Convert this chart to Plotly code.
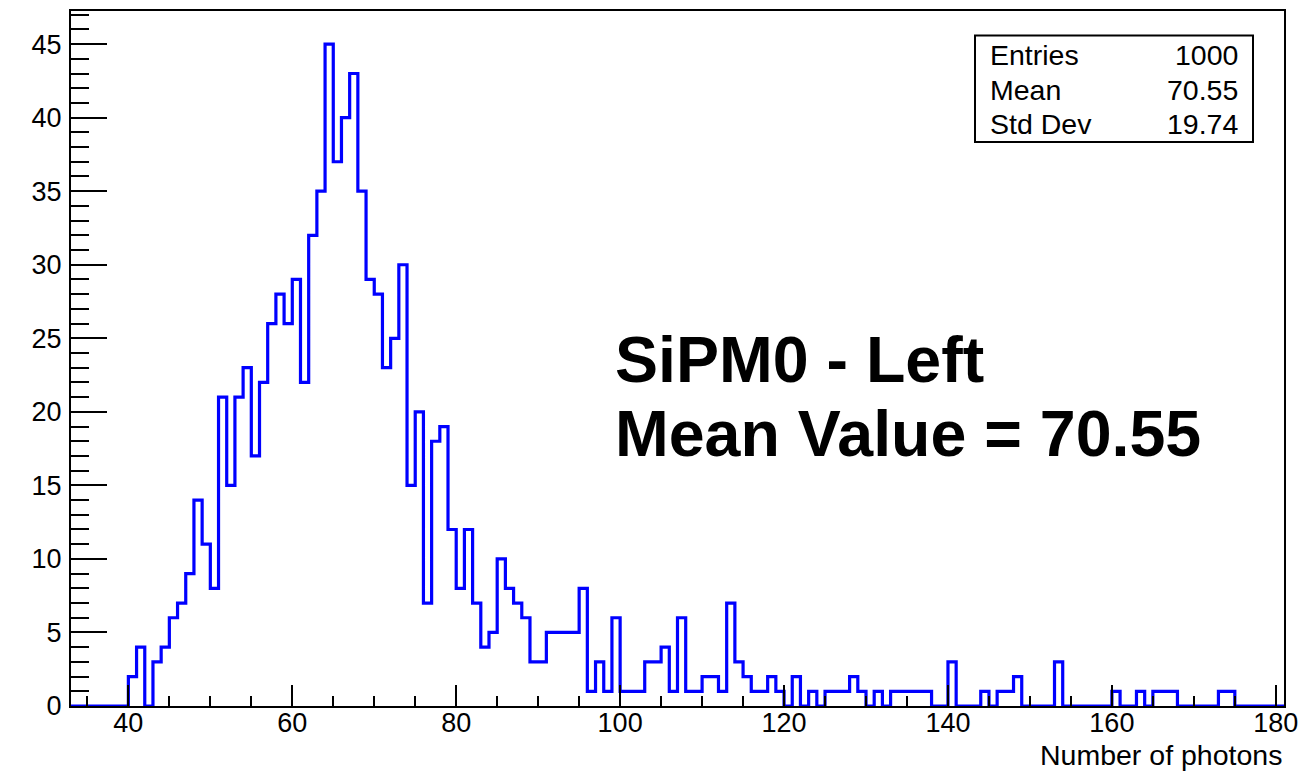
import plotly.graph_objects as go

# ---------------- data ----------------
BIN_START = 33
BIN_END = 181
BIN_WIDTH = 1

# counts for bins [33,34), [34,35), ... [180,181)
counts = [
    0, 0, 0, 0, 0, 0, 0,                 # 33-39
    2, 4, 0, 3, 4, 6, 7, 9, 14, 11,      # 40-49
    8, 21, 15, 21, 23, 17, 22, 26, 28, 26,   # 50-59
    29, 22, 32, 35, 45, 37, 40, 43, 35, 29,  # 60-69
    28, 23, 25, 30, 15, 20, 7, 18, 19, 12,   # 70-79
    8, 12, 7, 4, 5, 10, 8, 7, 6, 3,      # 80-89
    3, 5, 5, 5, 5, 8, 1, 3, 1, 6,        # 90-99
    1, 1, 1, 3, 3, 4, 1, 6, 1, 1,        # 100-109
    2, 2, 1, 7, 3, 2, 1, 1, 2, 1,        # 110-119
    0, 2, 0, 1, 0, 1, 1, 1, 2, 1,        # 120-129
    0, 1, 0, 1, 1, 1, 1, 1, 0, 0,        # 130-139
    3, 0, 0, 0, 1, 0, 1, 1, 2, 0,        # 140-149
    0, 0, 0, 3, 0, 0, 0, 0, 0, 0,        # 150-159
    1, 0, 0, 1, 0, 1, 1, 1, 0, 0,        # 160-169
    0, 0, 0, 1, 1, 0, 0, 0, 0, 0,        # 170-179
    0,                                   # 180
]

stats_labels = ["Entries", "Mean", "Std Dev"]
stats_values = ["1000", "70.55", "19.74"]
title_lines = ["SiPM0 - Left", "Mean Value = 70.55"]
x_title = "Number of photons"

Y_MAX = 47.25

# ---------------- figure ----------------
edges = [BIN_START + i * BIN_WIDTH for i in range(len(counts) + 1)]
yvals = counts + [counts[-1]]

W, H = 1315, 772
ML, MR, MT, MB = 71, 31, 9, 66
PW = W - ML - MR
PH = H - MT - MB

def px_x(px):
    return (px - ML) / PW

def px_y(py):
    return (H - MB - py) / PH

FONT = "Liberation Sans, Arial, Helvetica, sans-serif"

fig = go.Figure()
fig.add_trace(go.Scatter(
    x=edges, y=yvals, mode="lines", line_shape="hv",
    line=dict(color="#0000ff", width=3.2), showlegend=False,
    hoverinfo="skip",
))

fig.update_layout(
    width=W, height=H,
    margin=dict(l=ML, r=MR, t=MT, b=MB, pad=0),
    paper_bgcolor="white", plot_bgcolor="white",
    font=dict(family=FONT, size=27, color="black"),
    showlegend=False,
)

fig.update_xaxes(
    range=[BIN_START, BIN_END],
    tick0=0, dtick=20,
    ticks="inside", ticklen=21, tickwidth=2, tickcolor="black",
    minor=dict(dtick=5, tick0=0, ticks="inside", ticklen=10, tickwidth=2,
               tickcolor="black", showgrid=False),
    showline=True, linewidth=2, linecolor="black", mirror=True,
    showgrid=False, zeroline=False,
    tickfont=dict(family=FONT, size=27, color="black"),
    ticklabelstandoff=-8,
)
fig.update_yaxes(
    range=[0, Y_MAX],
    tick0=0, dtick=5,
    ticks="inside", ticklen=36, tickwidth=2, tickcolor="black",
    minor=dict(dtick=1, tick0=0, ticks="inside", ticklen=18, tickwidth=2,
               tickcolor="black", showgrid=False),
    showline=True, linewidth=2, linecolor="black", mirror=True,
    showgrid=False, zeroline=False,
    tickfont=dict(family=FONT, size=27, color="black"),
    ticklabelstandoff=2,
)

# x title, right aligned at the end of the axis
fig.add_annotation(
    x=1, y=px_y(755), xref="paper", yref="paper",
    xanchor="right", yanchor="middle", showarrow=False,
    text=x_title, font=dict(family=FONT, size=28.5, color="black"),
)

# stats box
fig.add_shape(
    type="rect", xref="paper", yref="paper",
    x0=px_x(975), x1=px_x(1253), y0=px_y(140.5), y1=px_y(33.5),
    line=dict(color="black", width=2), fillcolor="white", layer="above",
)
row_y = [53, 88, 122]
for lab, val, ry in zip(stats_labels, stats_values, row_y):
    fig.add_annotation(
        x=px_x(988), y=px_y(ry), xref="paper", yref="paper",
        xanchor="left", yanchor="middle", showarrow=False,
        text=lab, font=dict(family=FONT, size=28.5, color="black"),
    )
    fig.add_annotation(
        x=px_x(1240), y=px_y(ry), xref="paper", yref="paper",
        xanchor="right", yanchor="middle", showarrow=False,
        text=val, font=dict(family=FONT, size=28.5, color="black"),
    )

# big label text
for line, ry in zip(title_lines, [359, 433]):
    fig.add_annotation(
        x=px_x(613), y=px_y(ry), xref="paper", yref="paper",
        xanchor="left", yanchor="middle", showarrow=False,
        text="<b>" + line + "</b>",
        font=dict(family=FONT, size=64.5, color="black"),
    )

fig.write_html(
    "out.html",
    config={"displayModeBar": False},
    post_script="document.body.style.margin='0px';document.body.style.overflow='hidden';",
)
